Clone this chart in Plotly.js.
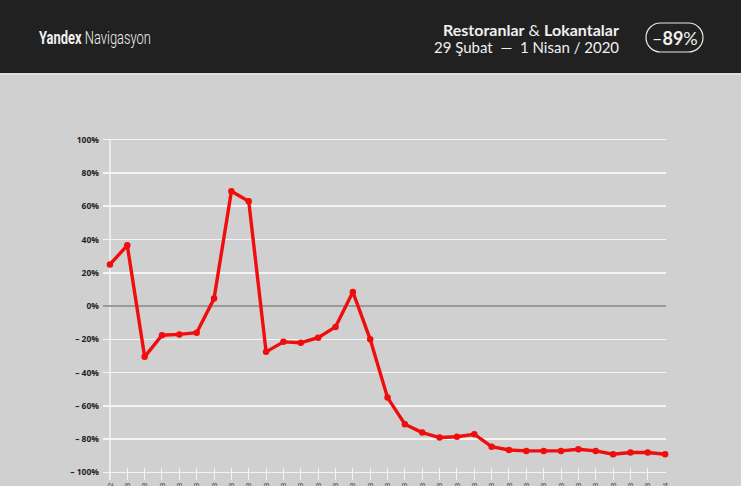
<!DOCTYPE html>
<html>
<head>
<meta charset="utf-8">
<script src="https://cdn.plot.ly/plotly-3.0.1.min.js"></script>
<style>
html,body{margin:0;padding:0;overflow:hidden;background:#d0d0d0;}
#chart{width:741px;height:486px;}
</style>
</head>
<body>
<div id="chart"></div>
<script>
// Days: 29 Şubat — 1 Nisan 2020
const dayLabels = ["29.02","01.03","02.03","03.03","04.03","05.03","06.03","07.03","08.03","09.03","10.03","11.03","12.03","13.03","14.03","15.03","16.03","17.03","18.03","19.03","20.03","21.03","22.03","23.03","24.03","25.03","26.03","27.03","28.03","29.03","30.03","31.03","01.04"];
// Change vs. baseline, %
const changeValues = [25, 36.5, -30.5, -17.5, -17, -16, 4.5, 69, 63, -27.5, -21.5, -22, -19, -12.5, 8.5, -20, -55, -71, -76, -79, -78.5, -77, -84.5, -86.5, -87, -87, -87, -86, -87, -89, -88, -88, -89];
const yTickValues = [100, 80, 60, 40, 20, 0, -20, -40, -60, -80, -100];
const yTickLabels = ["100%", "80%", "60%", "40%", "20%", "0%", "– 20%", "– 40%", "– 60%", "– 80%", "– 100%"];

const xIdx = dayLabels.map((d, i) => i);

const W = 741, H = 486;
const L = 103, R = 75, T = 138, B = 6;
const pw = W - L - R, ph = H - T - B;
const px = x => (x - L) / pw;
const py = y => (H - B - y) / ph;

// rounded pill path in paper coords
function pill(x0, y0, x1, y1) {
  const r = (y1 - y0) / 2, k = 0.5523 * r;
  const P = (x, y) => px(x) + ',' + py(y);
  return 'M' + P(x0 + r, y0) + ' L' + P(x1 - r, y0) +
    ' C' + P(x1 - r + k, y0) + ' ' + P(x1, y0 + r - k) + ' ' + P(x1, y0 + r) +
    ' C' + P(x1, y0 + r + k) + ' ' + P(x1 - r + k, y1) + ' ' + P(x1 - r, y1) +
    ' L' + P(x0 + r, y1) +
    ' C' + P(x0 + r - k, y1) + ' ' + P(x0, y0 + r + k) + ' ' + P(x0, y0 + r) +
    ' C' + P(x0, y0 + r - k) + ' ' + P(x0 + r - k, y0) + ' ' + P(x0 + r, y0) + ' Z';
}

const trace = {
  x: xIdx,
  y: changeValues,
  type: 'scatter',
  mode: 'lines+markers',
  line: {color: '#f00d0d', width: 3.4},
  marker: {color: '#f00d0d', size: 6.5},
  cliponaxis: false,
  hoverinfo: 'skip'
};

const layout = {
  width: W, height: H,
  margin: {l: L, r: R, t: T, b: B, pad: 0},
  paper_bgcolor: '#d0d0d0',
  plot_bgcolor: '#d0d0d0',
  showlegend: false,
  xaxis: {
    range: [-0.4, 32.05],
    tickmode: 'array',
    tickvals: xIdx,
    ticktext: dayLabels,
    tickangle: -90,
    ticks: 'inside',
    ticklen: 12,
    tickwidth: 1,
    tickcolor: '#f2f2f2',
    showgrid: false,
    zeroline: false,
    showline: false,
    tickfont: {family: 'Open Sans, sans-serif', size: 8, color: '#333'},
    automargin: false,
    fixedrange: true
  },
  yaxis: {
    range: [-104.5, 101],
    tickmode: 'array',
    tickvals: yTickValues,
    ticktext: yTickLabels,
    showgrid: true,
    gridcolor: '#f4f4f4',
    gridwidth: 1.5,
    zeroline: true,
    zerolinecolor: '#9a9a9a',
    zerolinewidth: 1.2,
    showline: false,
    ticks: '',
    ticklabelstandoff: 3,
    tickfont: {family: 'Open Sans, sans-serif', size: 8.5, color: '#222', weight: 'bold'},
    automargin: false,
    fixedrange: true
  },
  shapes: [
    {type: 'rect', xref: 'paper', yref: 'paper', x0: px(0), x1: px(W), y0: py(73), y1: py(0), fillcolor: '#212121', line: {width: 0}, layer: 'above'},
    {type: 'rect', xref: 'paper', yref: 'paper', x0: px(0), x1: px(W), y0: py(75), y1: py(73), fillcolor: '#dedede', line: {width: 0}, layer: 'above'},
    {type: 'line', xref: 'x', yref: 'y', x0: 0, x1: 0, y0: 100, y1: -104.5, line: {color: '#f4f4f4', width: 1.5}, layer: 'below'},
    {type: 'path', xref: 'paper', yref: 'paper', path: pill(646, 23, 703, 52), line: {color: '#e8e8e8', width: 1.2}, fillcolor: 'rgba(0,0,0,0)', layer: 'above'}
  ],
  annotations: [
    {xref: 'paper', yref: 'paper', x: px(37), y: py(37.5), xanchor: 'left', yanchor: 'middle', showarrow: false,
     text: '<b>Yandex</b> <span style="font-weight:300">Navigasyon</span>', font: {family: 'Roboto, sans-serif', size: 18, color: '#f0f0f0'}},
    {xref: 'paper', yref: 'paper', x: px(621), y: py(29), xanchor: 'right', yanchor: 'middle', showarrow: false,
     text: '<b>Restoranlar</b> & <b>Lokantalar</b>', font: {family: 'Lato, sans-serif', size: 16, color: '#f0f0f0'}},
    {xref: 'paper', yref: 'paper', x: px(621), y: py(47), xanchor: 'right', yanchor: 'middle', showarrow: false,
     text: '29 Şubat  —  1 Nisan / 2020', font: {family: 'Lato, sans-serif', size: 15, color: '#f0f0f0'}},
    {xref: 'paper', yref: 'paper', x: px(675), y: py(38), xanchor: 'center', yanchor: 'middle', showarrow: false,
     text: '–<b>89</b>%', font: {family: 'Lato, sans-serif', size: 18, color: '#f0f0f0'}}
  ]
};

Plotly.newPlot('chart', [trace], layout, {staticPlot: true, displayModeBar: false}).then(gd => {
  // condense the brand line horizontally to match the narrow typeface of the original
  const t = gd.querySelector('.annotation[data-index="0"] text');
  if (t) {
    const bb = t.getBBox();
    const target = 112;
    const s = Math.min(1, target / bb.width);
    const prev = t.getAttribute('transform') || '';
    t.setAttribute('transform', prev + ' translate(' + (bb.x * (1 - s)) + ',0) scale(' + s + ',1)');
  }
});
</script>
</body>
</html>
